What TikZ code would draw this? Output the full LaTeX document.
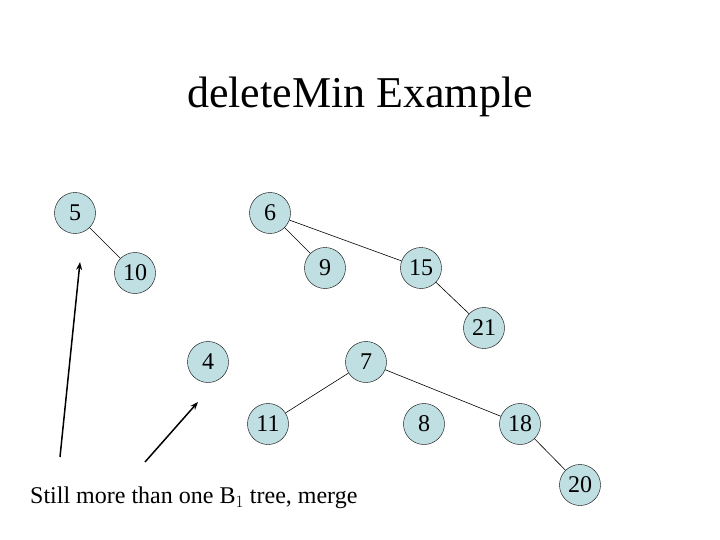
\documentclass[tikz,border=0pt]{standalone}
\usepackage{fontspec}
\setmainfont{Liberation Serif}
\usetikzlibrary{arrows.meta}
\begin{document}
\begin{tikzpicture}[x=1pt,y=-1pt,
  nd/.style={circle,draw=black,fill={rgb,255:red,192;green,223;blue,226},minimum size=41pt,inner sep=0pt,font=\fontsize{24}{26}\selectfont},
  ed/.style={draw=black,line width=0.6pt},
  ar/.style={draw=black,line width=1.5pt,-{Stealth[length=8pt,width=6pt]}}]
\useasboundingbox (0,0) rectangle (720,540);
\node at (360,97) {\fontsize{44}{48}\selectfont deleteMin Example};
\node[nd] (n5) at (75,213) {5};
\node[nd] (n6) at (270,213) {6};
\node[nd] (n9) at (325,268) {9};
\node[nd] (n10) at (135,273) {10};
\node[nd] (n15) at (421,268) {15};
\node[nd] (n21) at (484,328) {21};
\node[nd] (n4) at (208,362) {4};
\node[nd] (n7) at (366,362) {7};
\node[nd] (n11) at (268,424) {11};
\node[nd] (n8) at (424,424) {8};
\node[nd] (n18) at (520,424) {18};
\node[nd] (n20) at (580,485) {20};
\draw[ed] (n5)--(n10);
\draw[ed] (n6)--(n9);
\draw[ed] (n6)--(n15);
\draw[ed] (n15)--(n21);
\draw[ed] (n7)--(n11);
\draw[ed] (n7)--(n18);
\draw[ed] (n18)--(n20);
\coordinate (a1s) at (60,457); \coordinate (a1e) at (80,262);
\coordinate (a2s) at (145,462); \coordinate (a2e) at (198,402);
\draw[ar] (a1s)--(a1e);
\draw[ar] (a2s)--(a2e);
\node[anchor=west,inner sep=0pt,font=\fontsize{24}{26}\selectfont] (cap) at (30,498) {Still more than one B$_1$ tree, merge};
\end{tikzpicture}
\end{document}
